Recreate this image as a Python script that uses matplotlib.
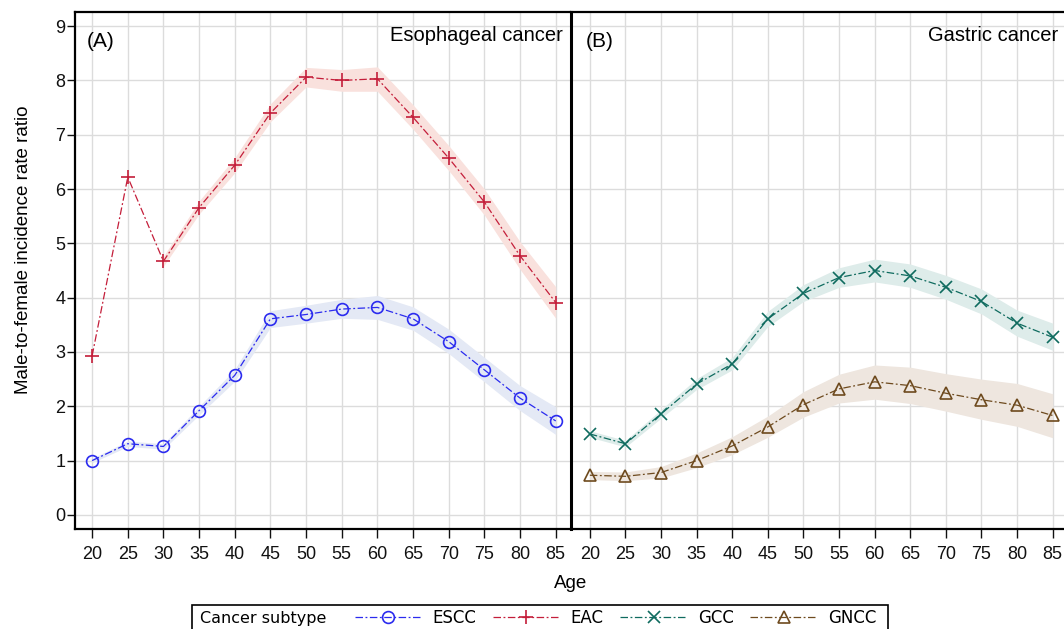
import numpy as np
import matplotlib.pyplot as plt
from matplotlib.lines import Line2D
from matplotlib.patches import Rectangle

ages = [20, 25, 30, 35, 40, 45, 50, 55, 60, 65, 70, 75, 80, 85]

# Esophageal cancer
escc = [1.00, 1.31, 1.26, 1.92, 2.57, 3.61, 3.69, 3.79, 3.82, 3.61, 3.19, 2.67, 2.15, 1.73]
escc_lo = [0.96, 1.26, 1.21, 1.84, 2.46, 3.45, 3.53, 3.62, 3.60, 3.40, 2.97, 2.45, 1.92, 1.48]
escc_hi = [1.04, 1.36, 1.31, 2.00, 2.68, 3.76, 3.86, 3.97, 4.04, 3.83, 3.42, 2.90, 2.38, 1.99]

eac = [2.93, 6.22, 4.67, 5.66, 6.44, 7.40, 8.06, 8.00, 8.03, 7.32, 6.57, 5.76, 4.77, 3.91]
eac_lo = [np.nan, np.nan, 4.58, 5.54, 6.30, 7.24, 7.88, 7.80, 7.80, 7.10, 6.34, 5.52, 4.52, 3.62]
eac_hi = [np.nan, np.nan, 4.76, 5.78, 6.58, 7.57, 8.24, 8.20, 8.25, 7.55, 6.80, 6.00, 5.03, 4.20]

# Gastric cancer
gcc = [1.49, 1.31, 1.86, 2.41, 2.78, 3.61, 4.08, 4.37, 4.50, 4.40, 4.19, 3.93, 3.53, 3.27]
gcc_lo = [1.43, 1.25, 1.78, 2.31, 2.67, 3.47, 3.93, 4.19, 4.29, 4.19, 3.97, 3.70, 3.29, 3.03]
gcc_hi = [1.55, 1.37, 1.94, 2.51, 2.90, 3.75, 4.24, 4.55, 4.71, 4.62, 4.41, 4.16, 3.77, 3.53]

gncc = [0.73, 0.71, 0.78, 1.00, 1.27, 1.62, 2.03, 2.32, 2.45, 2.38, 2.24, 2.12, 2.02, 1.83]
gncc_lo = [0.65, 0.63, 0.68, 0.87, 1.11, 1.43, 1.80, 2.06, 2.13, 2.05, 1.91, 1.76, 1.63, 1.42]
gncc_hi = [0.80, 0.79, 0.89, 1.14, 1.44, 1.82, 2.27, 2.59, 2.76, 2.72, 2.60, 2.50, 2.42, 2.23]

yticks = list(range(0, 10))

TXT = ['Liberation Sans', 'DejaVu Sans']
DASH = (0, (6, 2, 1.5, 2))

styles = {
    'ESCC': dict(color='#2b2bef', band='#e4e9f5', marker='o', ms=8.5),
    'EAC': dict(color='#c41e3a', band='#f9e1dd', marker='+', ms=10),
    'GCC': dict(color='#0f6b5f', band='#deecea', marker='x', ms=8.5),
    'GNCC': dict(color='#6e4a1e', band='#eee6df', marker='^', ms=9),
}


def draw_series(ax, name, vals, lo, hi):
    st = styles[name]
    ax.fill_between(ages, lo, hi, color=st['band'], lw=0, zorder=1)
    ax.plot(ages, vals, color=st['color'], lw=0.9, linestyle=DASH,
            marker=st['marker'], ms=st['ms'], mfc='none', mec=st['color'],
            mew=1.2, zorder=3)


def style_axis(ax, xlim):
    ax.set_xlim(*xlim)
    ax.set_ylim(-0.26, 9.26)
    ax.set_xticks(ages)
    ax.set_yticks(yticks)
    ax.grid(True, color='#dcdcdc', lw=1.0, zorder=0)
    ax.set_axisbelow(True)
    for s in ['top', 'bottom', 'left']:
        ax.spines[s].set_linewidth(1.6)
        ax.spines[s].set_color('black')
    ax.spines['right'].set_visible(False)
    ax.tick_params(axis='x', length=6.5, width=1.0, pad=6, labelsize=13,
                   colors='#111111')
    ax.tick_params(axis='y', length=5.5, width=1.0, pad=1.5, labelsize=13,
                   colors='#111111')
    for lab in ax.get_xticklabels() + ax.get_yticklabels():
        lab.set_family(TXT)


fig = plt.figure(figsize=(10.64, 6.29), dpi=100)
ax1 = fig.add_axes([75 / 1064, 1 - 529 / 629, 495 / 1064, 517 / 629])
ax2 = fig.add_axes([571 / 1064, 1 - 529 / 629, 497 / 1064, 517 / 629])

draw_series(ax1, 'ESCC', escc, escc_lo, escc_hi)
draw_series(ax1, 'EAC', eac, eac_lo, eac_hi)
draw_series(ax2, 'GCC', gcc, gcc_lo, gcc_hi)
draw_series(ax2, 'GNCC', gncc, gncc_lo, gncc_hi)

style_axis(ax1, (17.6, 87.0))
style_axis(ax2, (17.35, 87.15))
ax2.spines['left'].set_linewidth(2.2)
ax2.tick_params(axis='y', length=0, labelleft=False)

ax1.set_ylabel('Male-to-female incidence rate ratio', family=TXT,
               fontsize=13.5)
ax1.yaxis.set_label_coords(-0.087, 0.54)

ax1.text(0.024, 0.942, '(A)', transform=ax1.transAxes, family=TXT,
         fontsize=15, va='center', ha='left')
ax1.text(0.986, 0.955, 'Esophageal cancer', transform=ax1.transAxes,
         family=TXT, fontsize=14.5, va='center', ha='right')
ax2.text(0.030, 0.942, '(B)', transform=ax2.transAxes, family=TXT,
         fontsize=15, va='center', ha='left')
ax2.text(0.980, 0.955, 'Gastric cancer', transform=ax2.transAxes,
         family=TXT, fontsize=14.5, va='center', ha='right')

fig.text(571 / 1064, 1 - 584 / 629, 'Age', family=TXT, fontsize=13.5,
         ha='center', va='center')

# legend frame and title drawn by hand, entries by fig.legend
fig.add_artist(Rectangle((192 / 1064, 1 - 640 / 629), (888 - 192) / 1064,
                         35 / 629, transform=fig.transFigure, fill=False,
                         ec='black', lw=1.2, clip_on=False))
fig.text(200 / 1064, 1 - 618 / 629, 'Cancer subtype', family='DejaVu Sans',
         fontsize=11.5, ha='left', va='center')

handles = []
for name in ['ESCC', 'EAC', 'GCC', 'GNCC']:
    st = styles[name]
    handles.append(Line2D([], [], color=st['color'], lw=0.9, linestyle=DASH,
                          marker=st['marker'], ms=st['ms'], mfc='none',
                          mec=st['color'], mew=1.2))
fig.legend(handles, ['ESCC', 'EAC', 'GCC', 'GNCC'], loc='center left',
           bbox_to_anchor=(355 / 1064, 1 - 618 / 629), ncol=4, frameon=False,
           borderpad=0, borderaxespad=0, handlelength=4.0, handletextpad=0.65,
           columnspacing=1.0, numpoints=1,
           prop={'family': 'DejaVu Sans', 'size': 12})

fig.savefig('out.png', dpi=100)
